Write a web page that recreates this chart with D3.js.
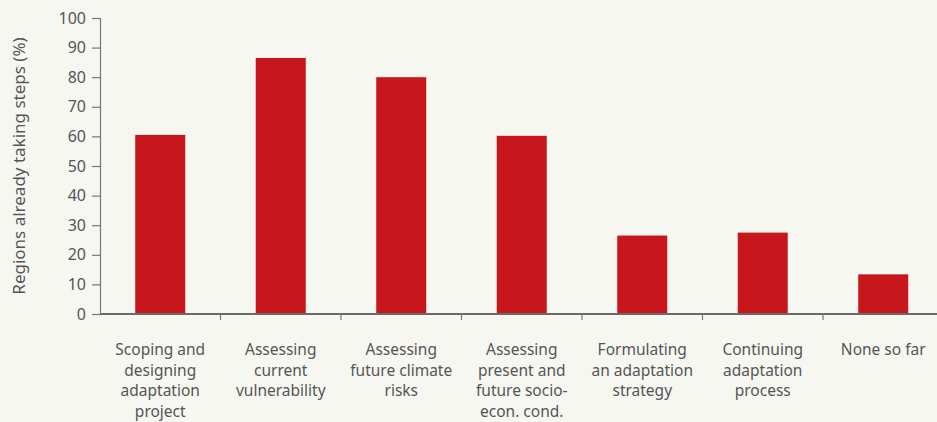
<!DOCTYPE html>
<html><head><meta charset="utf-8">
<script src="https://cdn.jsdelivr.net/npm/d3@7/dist/d3.min.js"></script>
<style>
html,body{margin:0;padding:0;background:#f7f7f2;}
svg{display:block;}
text{font-family:"Noto Sans","Open Sans",sans-serif;fill:#555;}
</style></head>
<body><svg id="c" width="937" height="422"></svg>
<script>
const categories = [
  ["Scoping and","designing","adaptation","project"],
  ["Assessing","current","vulnerability"],
  ["Assessing","future climate","risks"],
  ["Assessing","present and","future socio-","econ. cond."],
  ["Formulating","an adaptation","strategy"],
  ["Continuing","adaptation","process"],
  ["None so far"]
];
const values = [60.5, 86.5, 80.0, 60.2, 26.5, 27.5, 13.4];
const yTicks = [0,10,20,30,40,50,60,70,80,90,100];
const yLabel = "Regions already taking steps (%)";

const svg = d3.select("#c");
const m = {left:100, top:18, bottom:314, right:943.5};
const idx = d3.range(categories.length);
const x = d3.scaleBand().domain(idx).range([m.left, m.right]).paddingInner(0.585).paddingOuter(0.2925);
const y = d3.scaleLinear().domain([0,100]).range([m.bottom, m.top]);

// bars
svg.append("g").selectAll("rect").data(values).join("rect")
  .attr("x",(d,i)=>x(i)).attr("width",x.bandwidth())
  .attr("y",d=>y(d)).attr("height",d=>y(0)-y(d))
  .attr("fill","#c8161d");

// y axis
const ya = svg.append("g").attr("transform",`translate(${m.left},0)`)
  .call(d3.axisLeft(y).tickValues(yTicks).tickSize(8).tickPadding(6).tickFormat(d3.format("d")));
ya.select(".domain").attr("stroke","#777").attr("stroke-width",1.2);
ya.selectAll(".tick line").attr("stroke","#777").attr("stroke-width",1.2);
ya.selectAll(".tick text").style("font-size","16px").attr("fill","#555");

// x axis line
svg.append("line").attr("x1",m.left).attr("x2",m.right).attr("y1",y(0)).attr("y2",y(0))
  .attr("stroke","#6a6a6a").attr("stroke-width",2);
// category boundary ticks
const bounds = idx.slice(0,-1).map(i=>x.range()[0]+x.step()*(i+1));
svg.append("g").selectAll("line").data(bounds).join("line")
  .attr("x1",d=>d).attr("x2",d=>d).attr("y1",y(0)).attr("y2",y(0)+6)
  .attr("stroke","#777").attr("stroke-width",1.2);

// x labels
const lab = svg.append("g").selectAll("text").data(categories).join("text")
  .attr("x",(d,i)=>x(i)+x.bandwidth()/2).attr("y",355)
  .attr("text-anchor","middle").style("font-size","15.5px");
lab.each(function(d){
  d3.select(this).selectAll("tspan").data(d).join("tspan")
    .attr("x",d3.select(this).attr("x")).attr("dy",(t,j)=>j===0?0:20.7).text(t=>t);
});

// y label
svg.append("text").attr("transform",`translate(25,${(y(0)+y(100))/2}) rotate(-90)`)
  .attr("text-anchor","middle").style("font-size","17px").text(yLabel);
</script></body></html>
